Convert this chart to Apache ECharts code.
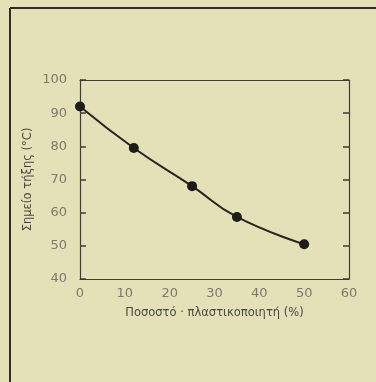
<!DOCTYPE html>
<html><head><meta charset="utf-8">
<script src="https://cdn.jsdelivr.net/npm/echarts@6/dist/echarts.min.js"></script>
<style>html,body{margin:0;padding:0;background:#e4e0b8;}#c{width:376px;height:382px;}</style>
</head><body><div id="c"></div>
<script>
const plasticizerPct = [0, 12, 25, 35, 50];
const meltingPoint = [92, 79.5, 68, 58.7, 50.5];
const xTicks = [0, 10, 20, 30, 40, 50, 60];
const yTicks = [40, 50, 60, 70, 80, 90, 100];
const xName = 'Ποσοστό · πλαστικοποιητή (%)';
const yName = 'Σημείο τήξης (°C)';

const chart = echarts.init(document.getElementById('c'), null, {renderer: 'canvas'});
const labelStyle = {color: '#7a7a70', fontSize: 13, fontFamily: 'DejaVu Sans'};
const frame = '#3e3e36';
const xMin = xTicks[0], xMax = xTicks[xTicks.length - 1];
const yMin = yTicks[0], yMax = yTicks[yTicks.length - 1];
chart.setOption({
  backgroundColor: '#e4e0b8',
  animation: false,
  graphic: [
    {type: 'line', z: 100, shape: {x1: 10, y1: 8, x2: 376, y2: 8}, style: {stroke: '#2e2e28', lineWidth: 2}},
    {type: 'line', z: 100, shape: {x1: 10, y1: 8, x2: 10, y2: 382}, style: {stroke: '#2e2e28', lineWidth: 2}}
  ],
  grid: {left: 80, right: 27, top: 80, bottom: 103, show: false},
  xAxis: [{
    type: 'value', min: xMin, max: xMax, interval: 10, position: 'bottom',
    axisLine: {show: true, onZero: false, lineStyle: {color: frame, width: 1.2}},
    axisTick: {show: false}, splitLine: {show: false},
    axisLabel: Object.assign({margin: 8}, labelStyle),
    name: xName, nameLocation: 'middle', nameGap: 28, nameMoveOverlap: false,
    nameTextStyle: {color: '#4a4a40', fontSize: 11.5, fontFamily: 'DejaVu Sans'}
  }, {
    type: 'value', min: xMin, max: xMax, interval: 10, position: 'top',
    axisLine: {show: true, onZero: false, lineStyle: {color: frame, width: 1.2}},
    axisTick: {show: false}, splitLine: {show: false}, axisLabel: {show: false}
  }],
  yAxis: [{
    type: 'value', min: yMin, max: yMax, interval: 10, position: 'left',
    axisLine: {show: true, onZero: false, lineStyle: {color: frame, width: 1.2}},
    splitLine: {show: false},
    axisTick: {show: true, inside: true, length: 6, lineStyle: {color: frame, width: 1.5}},
    axisLabel: Object.assign({margin: 13}, labelStyle),
    name: yName, nameLocation: 'middle', nameGap: 46, nameRotate: 90, nameMoveOverlap: false,
    nameTextStyle: {color: '#4a4a40', fontSize: 11.5, fontFamily: 'DejaVu Sans'}
  }, {
    type: 'value', min: yMin, max: yMax, interval: 10, position: 'right',
    axisLine: {show: true, onZero: false, lineStyle: {color: frame, width: 1.2}},
    splitLine: {show: false},
    axisTick: {show: true, inside: true, length: 6, lineStyle: {color: frame, width: 1.5}},
    axisLabel: {show: false}
  }],
  series: [{
    type: 'line', data: plasticizerPct.map((x, i) => [x, meltingPoint[i]]),
    smooth: 0.5, symbol: 'circle', symbolSize: 10, z: 3,
    lineStyle: {color: '#26261f', width: 2},
    itemStyle: {color: '#1c1c18'}
  }]
});
</script></body></html>
